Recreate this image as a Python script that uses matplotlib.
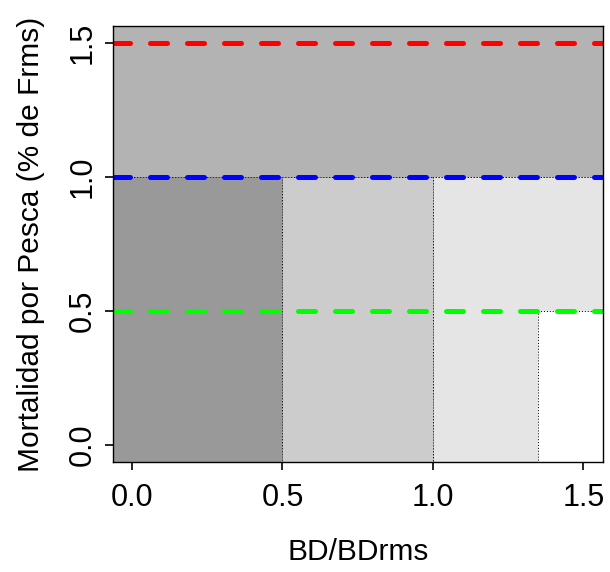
import matplotlib
matplotlib.use("Agg")
import matplotlib.pyplot as plt
from matplotlib.patches import Rectangle

plt.rcParams['font.family'] = ['Liberation Sans', 'DejaVu Sans']

# Zones (x0, x1, y0, y1, color)
zone_x0 = [-1.0, -1.0, 0.5, 1.0, 1.35]
zone_x1 = [2.0, 0.5, 1.0, 2.0, 2.0]
zone_y0 = [1.0, -1.0, -1.0, -1.0, -1.0]
zone_y1 = [2.0, 1.0, 1.0, 1.0, 0.5]
zone_colors = ['#B3B3B3', '#999999', '#CCCCCC', '#E5E5E5', '#FFFFFF']

# Reference lines
ref_levels = [1.5, 1.0, 0.5]
ref_colors = ['#FF0000', '#0000FF', '#00FF00']

xticks = [0.0, 0.5, 1.0, 1.5]
yticks = [0.0, 0.5, 1.0, 1.5]
xlabel = 'BD/BDrms'
ylabel = 'Mortalidad por Pesca (% de Frms)'

fig = plt.figure(figsize=(6.1, 5.72), dpi=100)
ax = fig.add_axes([113/610, 110/572, 490/610, 436/572])

for x0, x1, y0, y1, c in zip(zone_x0, zone_x1, zone_y0, zone_y1, zone_colors):
    ax.add_patch(Rectangle((x0, y0), x1 - x0, y1 - y0, facecolor=c,
                           edgecolor='#000000', linewidth=0.7,
                           linestyle=(0, (1, 2)), zorder=1))

for lvl, c in zip(ref_levels, ref_colors):
    ax.axhline(lvl, color=c, linewidth=3.6, linestyle=(0, (3.4, 4.0)),
               dash_capstyle='round', zorder=3)

ax.set_xlim(-0.063, 1.565)
ax.set_ylim(-0.063, 1.563)
ax.set_xticks(xticks)
ax.set_xticklabels([f'{v:.1f}' for v in xticks])
ax.set_yticks(yticks)
ax.set_yticklabels([f'{v:.1f}' for v in yticks], rotation=90, va='center')
ax.tick_params(direction='out', length=6, width=1.2, labelsize=22, pad=9)
ax.tick_params(axis='y', pad=5)
for s in ax.spines.values():
    s.set_linewidth(1.0)
    s.set_zorder(5)
ax.set_xlabel(xlabel, fontsize=21.5, labelpad=18)
ax.set_ylabel(ylabel, fontsize=21.5, labelpad=16)

fig.savefig('out.png', dpi=100)
